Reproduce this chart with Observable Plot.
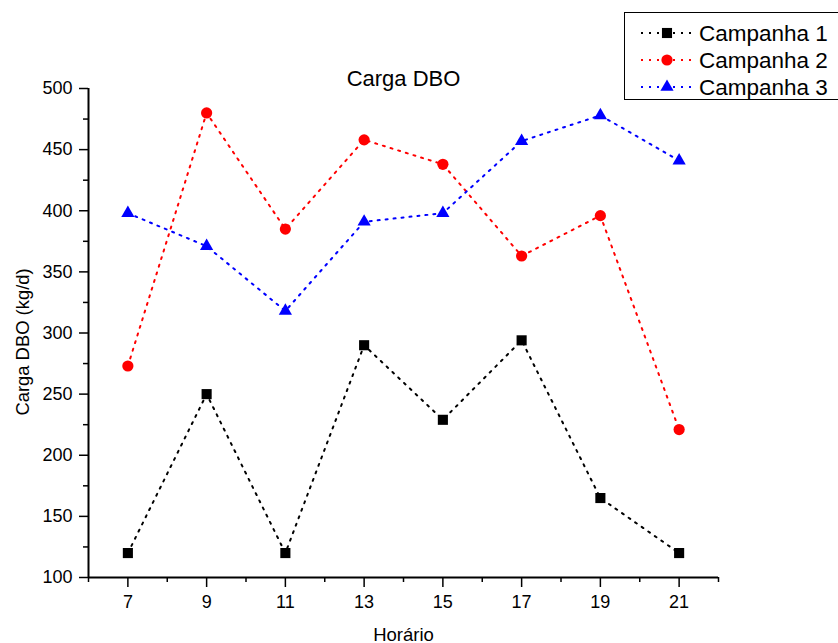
<!DOCTYPE html>
<html>
<head>
<meta charset="utf-8">
<script src="https://cdn.jsdelivr.net/npm/d3@7"></script>
<script src="https://cdn.jsdelivr.net/npm/@observablehq/plot@0.6"></script>
<style>
  html, body { margin: 0; padding: 0; background: #fff; overflow: hidden; }
  #wrap { position: relative; width: 838px; height: 643px; font-family: "Liberation Sans", Arial, sans-serif; }
  #legend { position: absolute; left: 624px; top: 12px; width: 230px; height: 88px; border: 1px solid #000; background: #fff; box-sizing: border-box; }
</style>
</head>
<body>
<div id="wrap"><div id="chart"></div><svg id="legend" width="230" height="88"></svg></div>
<script>
const title = "Carga DBO";
const xLabel = "Horário";
const yLabel = "Carga DBO (kg/d)";
const hours = [7, 9, 11, 13, 15, 17, 19, 21];
const campanha1 = [120, 250, 120, 290, 229, 294, 165, 120];
const campanha2 = [273, 480, 385, 458, 438, 363, 396, 221];
const campanha3 = [398, 371, 318, 391, 398, 457, 478, 441];
const seriesNames = ["Campanha 1", "Campanha 2", "Campanha 3"];
const seriesColors = ["#000000", "#ff0000", "#0000ff"];
const seriesSymbols = ["square", "circle", "triangle"];
const xMajorTicks = [7, 9, 11, 13, 15, 17, 19, 21];
const xMinorTicks = [6, 8, 10, 12, 14, 16, 18, 20, 22];
const yMajorTicks = [100, 150, 200, 250, 300, 350, 400, 450, 500];
const yMinorTicks = [125, 175, 225, 275, 325, 375, 425, 475];

const allSeries = [campanha1, campanha2, campanha3];
const data = [];
allSeries.forEach((vals, s) => vals.forEach((v, i) => data.push({hour: hours[i], value: v, series: seriesNames[s]})));

const symbolR = {square: 5.7, circle: 5.6, triangle: 4.9};
const dash = "2 6";

const marks = [];
seriesNames.forEach((name, s) => {
  const d = data.filter(r => r.series === name);
  marks.push(Plot.line(d, {x: "hour", y: "value", stroke: seriesColors[s], strokeWidth: 2, strokeDasharray: dash}));
});
seriesNames.forEach((name, s) => {
  const d = data.filter(r => r.series === name);
  marks.push(Plot.dot(d, {x: "hour", y: "value", fill: seriesColors[s], stroke: "none", symbol: () => seriesSymbols[s], r: symbolR[seriesSymbols[s]]}));
});

const chart = Plot.plot({
  width: 838, height: 643,
  marginLeft: 88, marginRight: 120, marginTop: 88, marginBottom: 66,
  x: {domain: [6, 22]},
  y: {domain: [100, 500]},
  symbol: {type: "identity"},
  style: {fontFamily: "Liberation Sans, Arial, sans-serif", fontSize: "18px", color: "#000", background: "#fff", overflow: "visible"},
  marks: [
    Plot.axisX(xMinorTicks, {tickSize: 5, text: null, label: null, strokeWidth: 1.5}),
    Plot.axisX(xMajorTicks, {tickSize: 10, tickPadding: 8, label: null, strokeWidth: 1.5, fontSize: 18}),
    Plot.axisY(yMinorTicks, {tickSize: 5, text: null, label: null, strokeWidth: 1.5}),
    Plot.axisY(yMajorTicks, {tickSize: 9, tickPadding: 7, label: null, strokeWidth: 1.5, fontSize: 18}),
    Plot.ruleX([6], {stroke: "#000", strokeWidth: 2}),
    Plot.ruleY([100], {stroke: "#000", strokeWidth: 2}),
    ...marks,
    Plot.text([title], {frameAnchor: "top", lineAnchor: "bottom", dy: -3, fontSize: 22}),
    Plot.text([xLabel], {frameAnchor: "bottom", lineAnchor: "bottom", dy: 63, fontSize: 18.5}),
    Plot.text([yLabel], {frameAnchor: "left", textAnchor: "middle", rotate: -90, dx: -65, dy: 9, fontSize: 18.4})
  ]
});
document.getElementById("chart").appendChild(chart);

// legend
const lg = d3.select("#legend");
const rowY = [20, 47, 74];
seriesNames.forEach((name, s) => {
  const g = lg.append("g").attr("transform", `translate(0,${rowY[s]})`);
  g.append("line").attr("x1", 16).attr("x2", 66).attr("y1", 0).attr("y2", 0)
    .attr("stroke", seriesColors[s]).attr("stroke-width", 2).attr("stroke-dasharray", dash);
  const sym = {square: d3.symbolSquare, circle: d3.symbolCircle, triangle: d3.symbolTriangle}[seriesSymbols[s]];
  const r = symbolR[seriesSymbols[s]];
  g.append("path").attr("transform", "translate(42,0)").attr("d", d3.symbol(sym, Math.PI * r * r)()).attr("fill", seriesColors[s]);
  g.append("text").attr("x", 74).attr("y", 0).attr("dy", "0.35em").attr("font-size", 22.5)
    .attr("font-family", "Liberation Sans, Arial, sans-serif").text(name);
});
</script>
</body>
</html>
